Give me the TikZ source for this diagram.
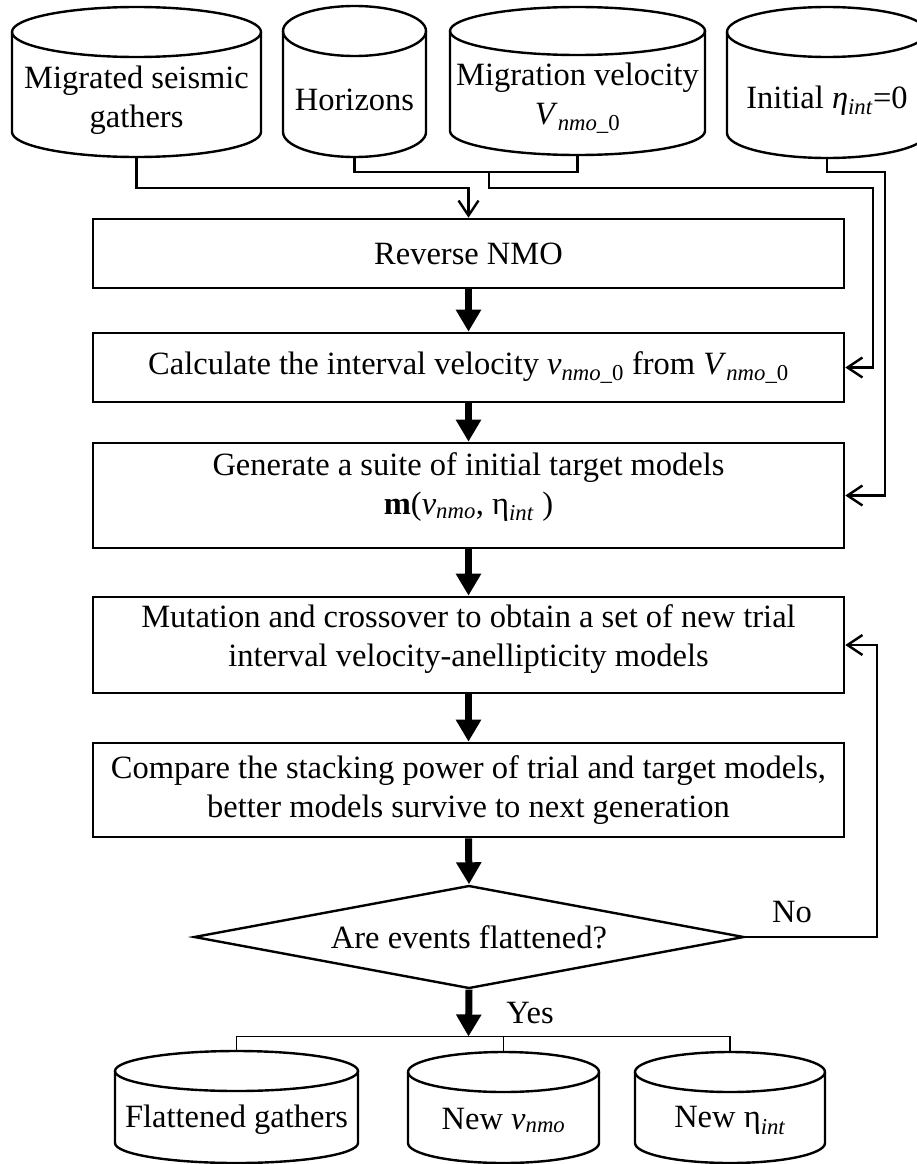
\documentclass[tikz,border=0pt]{standalone}
\usepackage{fontspec}
\setmainfont{Liberation Serif}
\usetikzlibrary{arrows.meta,shapes.geometric}
\newcommand\ital[1]{\textit{#1}}
\newcommand\sbs[1]{\textsubscript{#1}}
\tikzset{
 boxnode/.style={draw, line width=2.6pt, minimum width=751pt, inner sep=0pt, align=center},
 boxtext/.style={align=center, inner sep=0pt},
 cylline/.style={line width=2.4pt},
 cyltext/.style={align=center, inner sep=0pt},
 conn/.style={line width=2.4pt},
 openarrow/.style={conn, -{Straight Barb[length=15pt,width=20pt]}},
 bigarrow/.style={line width=7pt, -{Triangle[length=22pt,width=24pt]}},
 branch/.style={line width=1.5pt},
 lbl/.style={inner sep=0pt},
}
% #1 name, #2 left, #3 right, #4 top, #5 bottom, #6 ry, #7 text
\newcommand\dbcyl[7]{%
 \pgfmathsetmacro\cylcx{(#2+#3)/2}%
 \pgfmathsetmacro\cylrx{(#3-#2)/2}%
 \pgfmathsetmacro\cylw{#3-#2}%
 \pgfmathsetmacro\cylh{#5-#4}%
 \pgfmathsetmacro\cylcy{-(#4+#5)/2}%
 \pgfmathsetmacro\cylty{-(#4+#6)}%
 \pgfmathsetmacro\cylby{-(#5-#6)}%
 \pgfmathsetmacro\cyltxy{-(#4+2*#6+#5)/2+7}%
 \node[minimum width=\cylw pt, minimum height=\cylh pt, inner sep=0pt] (#1) at (\cylcx,\cylcy) {};
 \draw[cylline] (\cylcx,\cylty) ellipse [x radius=\cylrx, y radius=#6];
 \draw[cylline] (#2,\cylty) -- (#2,\cylby) arc[start angle=180,end angle=360,x radius=\cylrx,y radius=#6] -- (#3,\cylty);
 \node[cyltext] (#1t) at (\cylcx,\cyltxy) {#7};
}
\begin{document}
\begin{tikzpicture}[x=1pt,y=1pt,font=\fontsize{32.5}{39}\selectfont]
\useasboundingbox (0,0) rectangle (917,-1164);
% input databases
\dbcyl{src1}{12}{261}{7}{157}{25}{Migrated seismic\\gathers}
\dbcyl{src2}{283}{426}{6}{157}{25}{Horizons}
\dbcyl{src3}{450}{705}{7}{155}{24}{Migration velocity\\\ital{V}\sbs{\ital{nmo}\_0}}
\dbcyl{src4}{727}{927}{7}{158}{25}{Initial \ital{η}\sbs{\ital{int}}=0}
% process boxes
\node[boxnode, minimum height=69pt] (rnmo) at (468.5,-253.5) {Reverse NMO};
\node[boxnode, minimum height=69pt] (calc) at (468.5,-367.5) {Calculate the interval velocity \ital{v}\sbs{\ital{nmo}\_0} from \ital{V}\sbs{\ital{nmo}\_0}};
\node[boxnode, minimum height=105pt] (gen) at (468.5,-495.5) {};
\node[boxtext] (gent) at (468.5,-487) {Generate a suite of initial target models\\\textbf{m}(\ital{v}\sbs{\ital{nmo}}, η\sbs{\ital{int}} )};
\node[boxnode, minimum height=96pt] (mut) at (468.5,-645) {};
\node[boxtext] (mutt) at (468.5,-639) {Mutation and crossover to obtain a set of new trial\\interval velocity-anellipticity models};
\node[boxnode, minimum height=94pt] (cmp) at (468.5,-790) {Compare the stacking power of trial and target models,\\better models survive to next generation};
\node[diamond, draw, line width=2.4pt, minimum width=550pt, minimum height=103pt, aspect=5.34, inner sep=0pt] (dia) at (469,-937) {Are events flattened?};
% outputs
\dbcyl{out1}{115}{358}{1051}{1163}{20}{Flattened gathers}
\dbcyl{out2}{408}{599}{1052}{1163}{20}{New \ital{v}\sbs{\ital{nmo}}}
\dbcyl{out3}{635}{825}{1052}{1163}{20}{New η\sbs{\ital{int}}}
% top connectors
\coordinate (j1) at (468.5,-188);
\coordinate (j2) at (577.5,-172);
\coordinate (j3) at (489,-172);
\coordinate (j4) at (873,-188);
\coordinate (j5) at (885,-172);
\draw[openarrow] (src1.south) |- (j1) -- (rnmo.north);
\draw[conn] (src2.south) |- (j2) -- (src3.south);
\draw[openarrow] (j3) |- (j4) |- (calc.east);
\draw[openarrow] (src4.south) |- (j5) |- (gen.east);
% main flow
\draw[bigarrow] (rnmo.south) -- (calc.north);
\draw[bigarrow] (calc.south) -- (gen.north);
\draw[bigarrow] (gen.south) -- (mut.north);
\draw[bigarrow] (mut.south) -- (cmp.north);
\draw[bigarrow] (cmp.south) -- (dia.north);
% loop back
\coordinate (lp) at (877,-645);
\draw[openarrow] (dia.east) -| (lp) -- (mut.east);
\node[lbl] (no) at (792,-912) {No};
% yes branch
\coordinate (j6) at (468.5,-1036.5);
\draw[bigarrow] (dia.south) -- (j6);
\node[lbl] (yes) at (530,-1013) {Yes};
\draw[branch] (out1.north) -- (out1.north |- j6) -- (out3.north |- j6) -- (out3.north);
\draw[branch] (out2.north) -- (out2.north |- j6);
\end{tikzpicture}
\end{document}
